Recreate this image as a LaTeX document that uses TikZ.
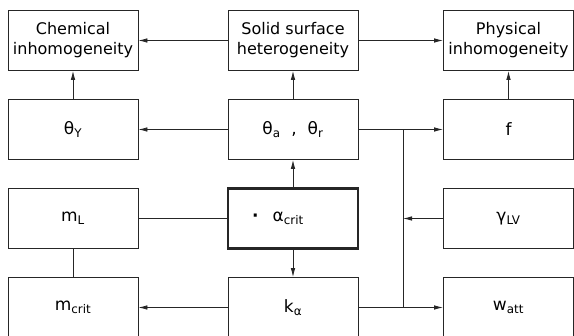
\documentclass[tikz,border=0pt]{standalone}
\usepackage{fontspec}
\setmainfont{DejaVu Sans}
\usepackage{tikz}
\usetikzlibrary{arrows.meta}

\begin{document}
\begin{tikzpicture}[x=1pt, y=-1pt,
        box/.style={draw=black!85, line width=0.8pt, minimum width=130pt, minimum height=60pt,
            inner sep=2pt, align=center, font=\fontsize{16}{20}\selectfont},
        sym/.style={box, font=\fontsize{17}{20}\selectfont},
        key/.style={sym, line width=2.2pt},
        arr/.style={draw=black!85, line width=0.8pt, -{Latex[length=9pt, width=4.5pt]}},
        ln/.style={draw=black!85, line width=0.8pt}
    ]
    \useasboundingbox (0,0) rectangle (574,336);
    \node[box] (chem) at (73,40.5) {Chemical\\inhomogeneity};
    \node[box] (sol) at (293,40.5) {Solid surface\\heterogeneity};
    \node[box] (phys) at (508.5,40.5) {Physical\\inhomogeneity};
    \node[sym] (thy) at (73,129.5) {θ\textsubscript{Y}};
    \node[sym] (thar) at (293,129.5) {θ\textsubscript{a}~ ,~ θ\textsubscript{r}};
    \node[sym] (f) at (508.5,129.5) {f};
    \node[sym] (ml) at (73,218.5) {m\textsubscript{L}};
    \node[key] (acrit) at (293,218.5) {\textbf{·}\hspace{14pt}α\textsubscript{crit}\hspace{30pt}};
    \node[sym] (glv) at (508.5,218.5) {γ\textsubscript{LV}};
    \node[sym] (mcrit) at (73,307.5) {m\textsubscript{crit}};
    \node[sym] (ka) at (293,307.5) {k\textsubscript{α}};
    \node[sym] (watt) at (508.5,307.5) {w\textsubscript{att}};
    \coordinate (jt) at (403,129.5);
    \coordinate (jb) at (403,307.5);
    \draw[arr] (sol) -- (chem);
    \draw[arr] (sol) -- (phys);
    \draw[arr] (thy) -- (chem);
    \draw[arr] (thar) -- (sol);
    \draw[arr] (f) -- (phys);
    \draw[arr] (thar) -- (thy);
    \draw[arr] (thar) -- (f);
    \draw[ln] (jt) -- (jb);
    \draw[arr] (glv) -- (glv -| jt);
    \draw[arr] (ka) -- (watt);
    \draw[arr] (acrit) -- (thar);
    \draw[arr] (acrit) -- (ka);
    \draw[ln] (ml) -- (acrit);
    \draw[ln] (ml) -- (mcrit);
    \draw[arr] (ka) -- (mcrit);
\end{tikzpicture}
\end{document}
